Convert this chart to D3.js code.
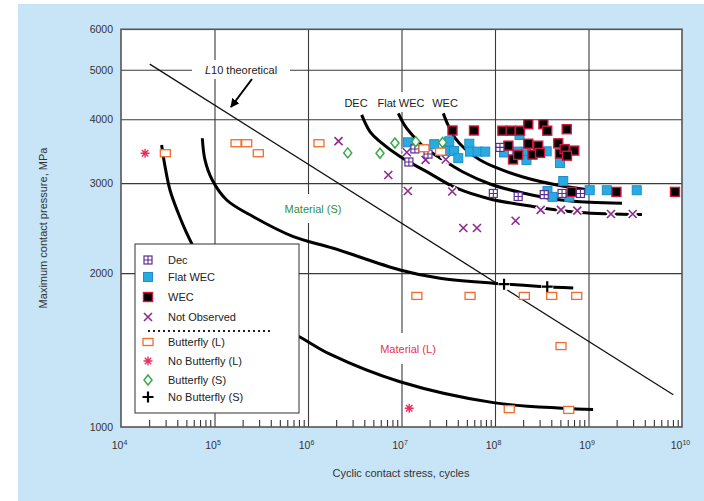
<!DOCTYPE html>
<html><head><meta charset="utf-8">
<script src="https://cdn.jsdelivr.net/npm/d3@7"></script>
<style>
body{margin:0;background:#fff}
svg{display:block}
text{font-family:"Liberation Sans",Arial,sans-serif}
</style>
</head><body>
<svg id="chart" width="704" height="501"></svg>
<script>
// ---------------- data ----------------
const xTickValues = [1e4, 1e5, 1e6, 1e7, 1e8, 1e9, 1e10];
const xTickExponents = ["4", "5", "6", "7", "8", "9", "10"];
const yTickValues = [1000, 2000, 3000, 4000, 5000, 6000];
const yTickLabels = ["1000", "2000", "3000", "4000", "5000", "6000"];

const legendLabels = ["Dec", "Flat WEC", "WEC", "Not Observed", "Butterfly (L)", "No Butterfly (L)", "Butterfly (S)", "No Butterfly (S)"];

// [cycles, max contact pressure MPa]
const decPoints = [[1.39e7,3500],[1.20e7,3300],[1.92e7,3420],[1.13e8,3524],[9.6e7,2864],[1.77e8,2825],[3.36e8,2849],[5.21e8,2864],[8.2e8,2864]];
const flatWecPoints = [[1.17e7,3606],[2.24e7,3576],[3.24e7,3623],[3.07e7,3467],[3.64e7,3467],[4.05e7,3357],[5.31e7,3583],[5.41e7,3458],[6.53e7,3458],[7.86e7,3458],[1.25e8,3445],[1.83e8,3727],[1.71e8,3458],[2.15e8,3458],[2.17e8,3331],[3.57e8,3463],[4.95e8,3286],[5.37e8,3029],[3.64e8,2895],[4.12e8,2820],[6.23e8,2820],[1.03e9,2906],[1.57e9,2906],[3.28e9,2906]];
const wecPoints = [[3.51e7,3803],[5.96e7,3803],[1.20e8,3800],[1.47e8,3800],[1.85e8,3800],[2.27e8,3912],[3.29e8,3912],[3.62e8,3800],[5.85e8,3825],[1.39e8,3552],[2.27e8,3583],[2.90e8,3552],[4.75e8,3590],[1.56e8,3338],[1.77e8,3407],[2.52e8,3412],[3.03e8,3438],[4.95e8,3427],[5.56e8,3497],[7.05e8,3474],[5.89e8,3395],[6.61e8,2884],[1.99e9,2884],[8.41e9,2884]];
const notObservedPoints = [[2.12e6,3625],[7.22e6,3113],[1.17e7,2895],[3.49e7,2889],[4.58e7,2451],[6.41e7,2451],[1.66e8,2533],[1.81e7,3331],[2.97e7,3338],[3.08e8,2659],[5.08e8,2659],[7.59e8,2651],[1.74e9,2611],[2.97e9,2611],[1.14e7,3449]];
const butterflyLPoints = [[2.98e4,3433],[1.70e5,3591],[2.21e5,3591],[2.94e5,3433],[1.31e6,3591],[1.74e7,3511],[2.62e7,3458],[1.46e7,1805],[5.41e7,1805],[2.06e8,1805],[4.04e8,1805],[7.48e8,1805],[5.08e8,1440],[1.42e8,1084],[6.14e8,1080]];
const noButterflyLPoints = [[1.81e4,3433],[1.21e7,1088]];
const butterflySPoints = [[2.66e6,3438],[5.89e6,3433],[8.51e6,3596],[1.42e7,3617],[2.75e7,3604]];
const noButterflySPoints = [[1.25e8,1903],[3.62e8,1882]];

// curves
const curveMaterialL = [[2.72e4,3564],[2.96e4,3232],[3.34e4,2909],[4.10e4,2619],[5.05e4,2394],[7.0e4,2141],[1.47e5,1829],[3.47e5,1620],[8.07e5,1502],[1.72e6,1388],[9.64e6,1226],[9.6e7,1116],[5.37e8,1088],[1.12e9,1082]];
const curveMaterialS = [[7.41e4,3673],[7.91e4,3331],[9.46e4,3043],[1.35e5,2781],[2.60e5,2579],[6.97e5,2358],[1.87e6,2237],[9.64e6,2029],[2.58e7,1954],[9.6e7,1911],[3.03e8,1884],[6.87e8,1871]];
const curveDEC = [[3.75e6,4080],[4.60e6,3784],[5.89e6,3617],[9.64e6,3381],[1.86e7,3160],[3.89e7,2932],[8.85e7,2794],[2.55e8,2701],[8.11e8,2629],[3.73e9,2605]];
const curveFlatWEC = [[9.25e6,4108],[1.09e7,3882],[1.33e7,3711],[1.78e7,3516],[2.58e7,3361],[4.55e7,3155],[8.85e7,2989],[1.99e8,2870],[4.60e8,2788],[1.04e9,2753],[2.28e9,2741]];
const curveWEC = [[2.80e7,4108],[3.14e7,3899],[3.73e7,3678],[4.78e7,3499],[6.92e7,3331],[1.05e8,3213],[1.99e8,3085],[4.60e8,2976],[1.15e9,2903]];
const lineL10 = [[2.03e4,5129],[8.07e9,1156]];

// ---------------- layout ----------------
const L = 121, R = 682, T = 29.3, B = 427;
const svg = d3.select("#chart");
const x = d3.scaleLog().domain([1e4, 1e10]).range([L, R]);
const y = d3.scaleLog().domain([1000, 6000]).range([B, T]);

svg.append("rect").attr("x", 18).attr("y", 4).attr("width", 686).attr("height", 497).attr("fill", "#c8e5f7");
svg.append("rect").attr("x", L).attr("y", T).attr("width", R - L).attr("height", B - T).attr("fill", "#fff");

const gridColor = "#3a3a3a";
// vertical grid
const vg = svg.append("g").attr("transform", `translate(0,${B})`)
  .call(d3.axisBottom(x).tickValues(xTickValues.slice(1, -1)).tickSize(-(B - T)).tickFormat(""));
vg.select(".domain").remove();
vg.selectAll("line").attr("stroke", gridColor).attr("stroke-width", 1.1);
// horizontal grid
const hg = svg.append("g").attr("transform", `translate(${L},0)`)
  .call(d3.axisLeft(y).tickValues(yTickValues.slice(1, -1)).tickSize(-(R - L)).tickFormat(""));
hg.select(".domain").remove();
hg.selectAll("line").attr("stroke", gridColor).attr("stroke-width", 1.1);

// minor ticks
const minors = [];
xTickValues.slice(0, -1).forEach(d => { for (let m = 2; m <= 9; m++) minors.push(d * m); });
const mg = svg.append("g").attr("transform", `translate(0,${B})`)
  .call(d3.axisBottom(x).tickValues(minors).tickSize(-7).tickFormat(""));
mg.select(".domain").remove();
mg.selectAll("line").attr("stroke", "#333").attr("stroke-width", 1.1);

// label background boxes (break gridlines)
const boxes = [[192, 60, 98, 19], [376, 92, 50, 20], [283, 194, 60, 29], [378, 333, 60, 31]];
boxes.forEach(b => svg.append("rect").attr("x", b[0]).attr("y", b[1]).attr("width", b[2]).attr("height", b[3]).attr("fill", "#fff"));

// plot border
svg.append("rect").attr("x", L).attr("y", T).attr("width", R - L).attr("height", B - T)
  .attr("fill", "none").attr("stroke", "#555").attr("stroke-width", 1.6);

// axes labels
const xa = svg.append("g").attr("transform", `translate(0,${B})`)
  .call(d3.axisBottom(x).tickValues(xTickValues).tickSize(0).tickPadding(15).tickFormat(""));
xa.select(".domain").remove();
xa.selectAll("text").each(function(d, i) {
  const t = d3.select(this).attr("font-size", 10.5).attr("fill", "#333").attr("font-family", null).attr("x", -2);
  t.append("tspan").text("10");
  t.append("tspan").attr("font-size", 7).attr("dy", -4).text(xTickExponents[i]);
});
const ya = svg.append("g").attr("transform", `translate(${L},0)`)
  .call(d3.axisLeft(y).tickValues(yTickValues).tickSize(0).tickPadding(8).tickFormat((d, i) => yTickLabels[i]));
ya.select(".domain").remove();
ya.selectAll("text").attr("font-size", 10.5).attr("fill", "#333").attr("font-family", null);

svg.append("text").attr("x", 401).attr("y", 477).attr("text-anchor", "middle").attr("font-size", 11).attr("fill", "#333")
  .text("Cyclic contact stress, cycles");
svg.append("text").attr("transform", "translate(47,228) rotate(-90)").attr("text-anchor", "middle").attr("font-size", 11).attr("fill", "#333")
  .text("Maximum contact pressure, MPa");

// curves
const line = d3.line().x(d => x(d[0])).y(d => y(d[1])).curve(d3.curveCatmullRom.alpha(0.5));
[curveMaterialL, curveMaterialS, curveDEC, curveFlatWEC, curveWEC].forEach(c => {
  svg.append("path").attr("d", line(c)).attr("fill", "none").attr("stroke", "#000").attr("stroke-width", 3).attr("stroke-linecap", "butt");
});
svg.append("path").attr("d", d3.line().x(d => x(d[0])).y(d => y(d[1]))(lineL10)).attr("fill", "none").attr("stroke", "#111").attr("stroke-width", 1.3);

// annotations
const l10 = svg.append("text").attr("x", 241).attr("y", 74).attr("text-anchor", "middle").attr("font-size", 11).attr("fill", "#222");
l10.append("tspan").attr("font-style", "italic").text("L");
l10.append("tspan").text("10 theoretical");
svg.append("defs").append("marker").attr("id", "ah").attr("viewBox", "0 0 10 10").attr("refX", 9).attr("refY", 5)
  .attr("markerWidth", 9).attr("markerHeight", 9).attr("markerUnits", "userSpaceOnUse").attr("orient", "auto")
  .append("path").attr("d", "M0,0L10,5L0,10Z").attr("fill", "#000");
svg.append("line").attr("x1", 252).attr("y1", 79).attr("x2", 231).attr("y2", 107).attr("stroke", "#000").attr("stroke-width", 2).attr("marker-end", "url(#ah)");

[["DEC", 356], ["Flat WEC", 401], ["WEC", 445]].forEach(a => {
  svg.append("text").attr("x", a[1]).attr("y", 107).attr("text-anchor", "middle").attr("font-size", 11).attr("fill", "#222").text(a[0]);
});
svg.append("text").attr("x", 313).attr("y", 213).attr("text-anchor", "middle").attr("font-size", 11).attr("fill", "#2a9146").text("Material (S)");
svg.append("text").attr("x", 408).attr("y", 353).attr("text-anchor", "middle").attr("font-size", 11).attr("fill", "#e8334d").text("Material (L)");

// symbols
function sym(g, type, cx, cy, halo) {
  const s = g.append("g").attr("transform", `translate(${cx},${cy})`);
  if (type === "dec") {
    s.append("rect").attr("x", -4).attr("y", -4).attr("width", 8).attr("height", 8).attr("fill", "#fff").attr("stroke", "#5a2d91").attr("stroke-width", 1.2);
    s.append("path").attr("d", "M0,-4V4M-4,0H4").attr("stroke", "#5a2d91").attr("stroke-width", 1.1);
  } else if (type === "flat") {
    s.append("rect").attr("x", -4.5).attr("y", -4.5).attr("width", 9).attr("height", 9).attr("fill", "#29abe2").attr("stroke", "#1b8fcc").attr("stroke-width", 1);
  } else if (type === "wec") {
    s.append("rect").attr("x", -4.5).attr("y", -4.5).attr("width", 9).attr("height", 9).attr("fill", "#000").attr("stroke", "#d3173f").attr("stroke-width", 1.4);
  } else if (type === "notobs") {
    if (halo) s.append("path").attr("d", "M-4,-4L4,4M-4,4L4,-4").attr("stroke", "#fff").attr("stroke-width", 5);
    s.append("path").attr("d", "M-4,-4L4,4M-4,4L4,-4").attr("stroke", "#8e2a8e").attr("stroke-width", 1.6);
  } else if (type === "bfL") {
    s.append("rect").attr("x", -5).attr("y", -3.5).attr("width", 10).attr("height", 7).attr("fill", "#fff").attr("stroke", "#f26b2b").attr("stroke-width", 1.3);
  } else if (type === "nobfL") {
    s.append("path").attr("d", "M-4.5,0H4.5M0,-4.5V4.5M-3.2,-3.2L3.2,3.2M-3.2,3.2L3.2,-3.2").attr("stroke", "#e8335f").attr("stroke-width", 1.4);
    s.append("circle").attr("r", 2).attr("fill", "#e8335f");
  } else if (type === "bfS") {
    s.append("path").attr("d", "M0,-5L4,0L0,5L-4,0Z").attr("fill", "#fff").attr("stroke", "#3aa847").attr("stroke-width", 1.5);
  } else if (type === "nobfS") {
    if (halo) s.append("path").attr("d", "M-6,0H6M0,-6V6").attr("stroke", "#fff").attr("stroke-width", 7);
    s.append("path").attr("d", "M-5.5,0H5.5M0,-5.5V5.5").attr("stroke", "#000").attr("stroke-width", 2.2);
  }
}

const series = [
  [notObservedPoints, "notobs", true],
  [noButterflySPoints, "nobfS", true],
  [flatWecPoints, "flat", false],
  [wecPoints, "wec", false],
  [decPoints, "dec", false],
  [butterflyLPoints, "bfL", false],
  [butterflySPoints, "bfS", false],
  [noButterflyLPoints, "nobfL", false]
];
const mk = svg.append("g");
series.forEach(s => s[0].forEach(p => sym(mk, s[1], x(p[0]), y(p[1]), s[2])));

// legend
const lg = svg.append("g");
lg.append("rect").attr("x", 135).attr("y", 244).attr("width", 164).attr("height", 169).attr("fill", "#fff").attr("stroke", "#333").attr("stroke-width", 1);
const legTypes = ["dec", "flat", "wec", "notobs", "bfL", "nobfL", "bfS", "nobfS"];
const legY = [260, 277, 297, 317, 342, 361, 380, 397];
legTypes.forEach((t, i) => {
  sym(lg, t, 148, legY[i], false);
  lg.append("text").attr("x", 168).attr("y", legY[i] + 4).attr("font-size", 11).attr("fill", "#222").text(legendLabels[i]);
});
lg.append("line").attr("x1", 148).attr("x2", 271).attr("y1", 331).attr("y2", 331).attr("stroke", "#222").attr("stroke-width", 2).attr("stroke-dasharray", "2,3");
</script>
</body></html>
